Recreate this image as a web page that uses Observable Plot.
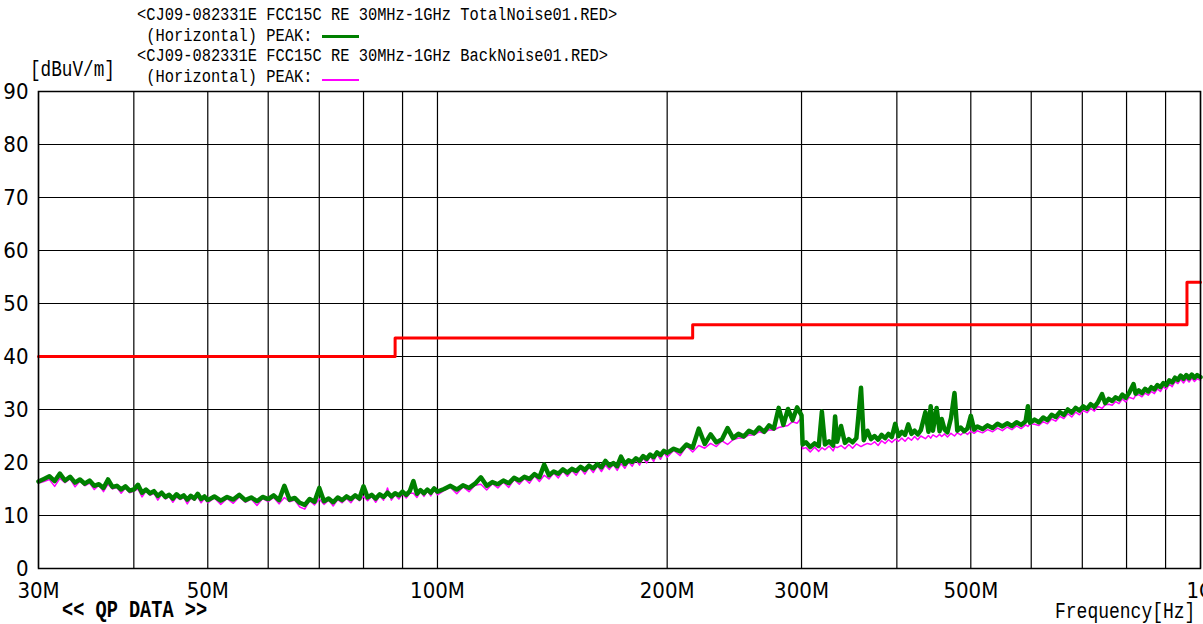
<!DOCTYPE html>
<html><head><meta charset="utf-8">
<script src="https://cdn.jsdelivr.net/npm/d3@7"></script>
<script src="https://cdn.jsdelivr.net/npm/@observablehq/plot@0.6"></script>
<style>
html,body{margin:0;padding:0;overflow:hidden;background:#fff;}
#wrap{position:relative;width:1203px;height:624px;overflow:hidden;}
.lbl{position:absolute;font-family:"Liberation Mono","DejaVu Sans Mono",monospace;color:#000;white-space:pre;line-height:1;transform-origin:left center;}
.leg{font-size:15.4px;transform:scaleY(1.2);}
.big{transform:scaleY(1.25);}
.sw{position:absolute;}
</style></head><body><div id="wrap"></div>
<script>
// ---- tick / grid definitions ----
const xGridMHz = [30,40,50,60,70,80,90,100,200,300,400,500,600,700,800,900,1000];
const xTickMHz = [30,50,70,100,200,300,500,700,1000];
const xTickLabels = ["30M","50M","70M","100M","200M","300M","500M","700M","1G"];
const yTicks = [0,10,20,30,40,50,60,70,80,90];

// ---- FCC 15C limit (step) ----
const limitFreq = [30, 88, 216, 960, 1000];
const limitLevel = [40, 43.5, 46, 54, 54];

// ---- measured traces (MHz, dBuV/m) ----
const segA_freq = [30,30.5,31,31.5,32,32.5,33,33.5,34,34.5,35,35.5,36,36.5,37,37.5,38,38.5,39,39.5,40,40.5,41,41.5,42,42.5,43,43.5,44,44.5,45,45.5,46,46.5,47,47.5,48,48.5,49,49.5,50];
const segA_total = [16.4,16.9,17.4,16.5,17.9,16.6,17.3,16.2,16.8,16.0,16.6,15.6,15.9,15.2,16.8,15.4,15.6,14.9,15.5,14.7,14.9,15.8,14.3,14.9,14.2,14.6,13.7,14.3,13.5,13.9,13.2,14.0,13.4,13.8,13.0,13.7,13.2,14.1,13.1,13.6,12.9];
const segA_back = [16.1,16.4,16.8,15.5,17.0,16.2,16.9,15.4,16.5,15.6,16.1,14.9,15.7,14.5,15.9,15.0,15.3,14.2,15.2,14.3,14.6,15.0,13.5,14.6,13.8,14.2,12.9,14.0,13.1,13.6,12.5,13.5,13.0,13.4,12.2,13.3,12.9,13.5,12.4,13.2,12.4];

const segB_freq = [51,52,53,54,55,56,57,58,59,60,61,62,63,64,65,66,67,68,69,70,71,72,73,74,75,76,77,78,79,80,81,82,83,84,85,86,87,88,89,90,91,92,93,94,95,96,97,98,99,100];
const segB_total = [13.6,12.8,13.5,13.0,13.9,12.9,13.4,12.7,13.5,13.1,13.8,12.9,15.6,13.0,13.3,12.4,12.0,13.1,12.6,15.2,12.7,13.2,12.5,13.4,12.9,13.6,13.1,13.8,13.2,15.5,13.4,13.9,13.2,14.0,13.5,14.3,13.6,14.2,13.8,14.5,13.9,14.6,16.5,14.1,14.8,14.2,14.9,14.3,15.1,14.5];
const segB_back = [13.3,12.1,13.2,12.3,13.5,12.5,13.1,11.9,13.2,12.6,13.4,12.2,13.4,12.6,12.9,11.6,11.2,12.8,12.0,13.1,12.1,12.9,11.8,13.0,12.4,13.2,12.4,13.5,12.8,13.6,12.8,13.6,12.5,13.7,12.9,15.2,12.9,13.9,13.1,14.1,13.3,14.2,14.2,13.4,14.5,13.6,14.6,13.7,14.8,13.9];

const segC_freq = [102,104,106,108,110,112,114,116,118,120,122,124,126,128,130,132,134,136,138,140,142,144,146,148,150,152,154,156,158,160,162,164,166,168,170,172,174,176,178,180,182,184,186,188,190,192,194,196,198,200];
const segC_total = [15.0,15.6,14.9,15.7,15.2,16.0,17.2,15.6,16.3,15.9,16.6,16.1,17.1,16.6,17.3,16.9,17.8,17.2,19.6,17.6,18.3,17.9,18.7,18.1,18.8,18.4,19.2,18.6,19.4,18.9,19.7,19.1,20.3,19.4,19.9,19.3,21.1,19.7,20.4,20.1,20.8,20.3,21.2,20.7,21.5,21.0,21.9,21.4,22.2,21.8];
const segC_back = [14.7,15.3,14.1,15.4,14.5,15.7,15.9,14.8,16.0,15.2,16.3,15.3,16.8,15.9,17.0,16.1,17.5,16.4,17.6,16.9,18.0,17.1,18.4,17.4,18.5,17.6,18.9,17.8,19.1,18.1,19.4,18.3,19.5,18.7,19.6,18.5,19.8,18.9,20.1,19.3,20.5,19.5,20.9,19.9,21.2,20.2,21.6,20.6,21.9,21.0];

const segD_freq = [204,208,212,216,220,224,228,232,236,240,244,248,252,256,260,264,268,272,276,280,284,288,292,296,300,301];
const segD_total = [22.6,22.1,23.4,22.8,26.4,23.5,25.3,23.8,24.4,26.5,24.6,25.4,24.9,26.0,25.5,26.6,25.8,27.0,26.4,30.3,27.1,30.1,28.0,30.4,28.9,23.4];
const segD_back = [22.3,21.3,23.1,22.0,23.2,22.7,23.6,23.0,24.1,23.4,24.3,24.6,24.6,25.2,25.2,25.8,25.5,26.2,26.1,26.6,26.8,27.0,27.7,27.4,28.5,22.6];

const segE_freq = [304,308,312,316,319,322,326,330,332,334,338,342,346,350,354,359,362,366,370,374,378,382,386,390,394,398];
const segE_total = [23.8,22.9,23.6,23.1,29.6,23.4,24.0,23.2,28.7,23.9,26.9,23.7,24.4,23.8,24.6,34.1,24.2,26.0,24.4,25.0,24.3,25.2,24.6,25.4,24.8,27.3];
const segE_back = [22.8,22.0,22.9,22.1,22.8,22.4,23.1,22.2,23.0,22.8,23.2,22.6,23.4,22.7,23.5,23.0,23.3,23.6,23.4,23.9,23.2,24.1,23.6,24.3,23.8,24.4];

const segF_freq = [402,406,410,414,418,422,426,430,436,440,443,446,451,455,458,462,466,471,476,480,485,490,495,500,505,510,518,526,534,542,550,558,566,574,582,590,594,598,606,614,622,630,638,646,654,662,670,678,686,694,702,710,718,726,734,743,750,758,766,774,782,790,798,806,817,822,830,838,846,854,862,870,878,886,894,902,910,918,926,934,942,950,958,966,974,982,990,1000];
const segF_total = [25.0,25.8,25.2,27.2,25.4,26.0,25.3,26.1,29.5,25.8,30.6,26.0,30.3,25.9,28.2,26.2,25.7,28.4,33.1,26.0,26.6,25.9,26.4,28.8,26.2,26.8,26.3,27.0,26.5,27.3,26.8,27.4,26.9,27.6,27.1,27.8,30.6,27.5,28.1,27.6,28.5,28.0,29.0,28.6,29.5,29.0,30.0,29.4,30.3,29.8,30.6,30.1,31.0,30.5,31.4,32.9,31.2,32.0,31.6,32.3,31.9,32.8,32.2,33.1,34.8,33.0,33.6,33.1,33.9,33.4,34.2,33.8,34.6,34.2,35.0,34.6,35.5,35.1,36.0,35.6,36.4,35.8,36.5,35.9,36.6,36.0,36.5,36.1];
const segF_back = [24.0,24.6,24.0,24.7,24.2,24.9,24.3,25.0,24.5,25.1,24.6,25.2,24.8,25.3,24.9,25.4,24.8,25.5,25.0,25.6,25.2,25.8,25.3,25.9,25.5,26.0,25.6,26.2,25.8,26.5,26.0,26.7,26.2,26.9,26.4,27.1,26.8,27.3,27.2,27.0,27.7,27.3,28.2,27.8,28.7,28.3,29.2,28.6,29.5,29.0,29.8,29.4,30.2,29.7,30.6,30.2,30.9,31.0,30.8,31.5,31.1,32.0,31.4,32.3,32.0,32.6,32.8,32.4,33.1,32.7,33.4,33.0,33.9,33.4,34.3,33.8,34.8,34.3,35.3,34.9,35.7,35.0,35.8,35.2,35.9,35.3,35.8,35.5];

// ---- build tables ----
const freqMHz = [...segA_freq, ...segB_freq, ...segC_freq, ...segD_freq, ...segE_freq, ...segF_freq];
const totalNoise = [...segA_total, ...segB_total, ...segC_total, ...segD_total, ...segE_total, ...segF_total];
const backNoise = [...segA_back, ...segB_back, ...segC_back, ...segD_back, ...segE_back, ...segF_back];
const noise = freqMHz.map((f, i) => ({f, total: totalNoise[i], back: backNoise[i]}));
const limit = limitFreq.map((f, i) => ({f, v: limitLevel[i]}));
const tickLabelOf = new Map(xTickMHz.map((f, i) => [f, xTickLabels[i]]));

const chart = Plot.plot({
  width: 1203,
  height: 624,
  marginLeft: 38,
  marginRight: 3,
  marginTop: 91,
  marginBottom: 56,
  style: {fontFamily: '"Liberation Sans Narrow","Arial Narrow","DejaVu Sans Condensed",sans-serif', fontSize: "22px", color: "#000", background: "#fff"},
  x: {type: "log", domain: [30, 1000], ticks: xTickMHz, tickFormat: d => tickLabelOf.get(d), tickSize: 0, tickPadding: 14, label: null},
  y: {domain: [0, 90], ticks: yTicks, tickSize: 0, tickPadding: 10, label: null},
  marks: [
    Plot.ruleX(xGridMHz, {stroke: "#000", strokeWidth: 1.2}),
    Plot.ruleY(yTicks, {stroke: "#000", strokeWidth: 1.2}),
    Plot.line(noise, {x: "f", y: "back", stroke: "#ff00ff", strokeWidth: 1.5}),
    Plot.line(noise, {x: "f", y: "total", stroke: "#008000", strokeWidth: 4.5}),
    Plot.line(limit, {x: "f", y: "v", curve: "step-after", stroke: "#ff0000", strokeWidth: 3}),
    Plot.frame({stroke: "#000", strokeWidth: 1.5})
  ]
});
const wrap = document.getElementById("wrap");
wrap.appendChild(chart);

const overlay = `
<div class="lbl leg" style="left:137px;top:8px">&lt;CJ09-082331E FCC15C RE 30MHz-1GHz TotalNoise01.RED&gt;</div>
<div class="lbl leg" style="left:137px;top:29px"> (Horizontal) PEAK:</div>
<div class="sw" style="left:322px;top:35px;width:37px;height:3px;background:#008000"></div>
<div class="lbl leg" style="left:137px;top:49px">&lt;CJ09-082331E FCC15C RE 30MHz-1GHz BackNoise01.RED&gt;</div>
<div class="lbl leg" style="left:137px;top:70px"> (Horizontal) PEAK:</div>
<div class="sw" style="left:322px;top:79px;width:37px;height:1.5px;background:#ff00ff"></div>
<div class="lbl big" style="left:30px;top:62px;font-size:17.7px">[dBuV/m]</div>
<div class="lbl big" style="left:62px;top:603px;font-size:18.6px;font-weight:bold">&lt;&lt; QP DATA &gt;&gt;</div>
<div class="lbl big" style="left:1055px;top:603px;font-size:18px">Frequency[Hz]</div>`;
wrap.insertAdjacentHTML("beforeend", overlay);
</script></body></html>
